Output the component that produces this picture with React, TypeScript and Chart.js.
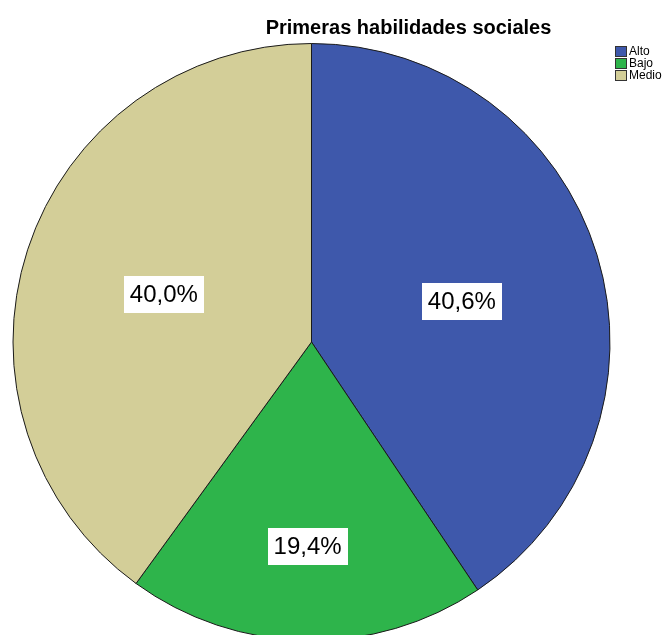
import React, { useEffect, useRef } from "react";
import { Chart, registerables } from "chart.js";

Chart.register(...registerables);

const categories = ["Alto", "Bajo", "Medio"];
const percentages = [40.6, 19.4, 40.0];
const colors = ["#3E58AB", "#2EB44B", "#D3CE98"];
const chartTitle = "Primeras habilidades sociales";

const FONT = "'Liberation Sans', Arial, Helvetica, sans-serif";
const labelRadiusFrac = [0.522, 0.685, 0.52];
const labelAngleTweak = [0.03, 0, 0];

const decorPlugin = {
  id: "spssDecor",
  afterDatasetsDraw(chart: any) {
    const ctx = chart.ctx;
    const meta = chart.getDatasetMeta(0);
    ctx.save();
    // slice labels
    meta.data.forEach((arc: any, i: number) => {
      const p = arc.getProps(["x", "y", "startAngle", "endAngle", "outerRadius"], true);
      const mid = (p.startAngle + p.endAngle) / 2 + labelAngleTweak[i];
      const r = p.outerRadius * labelRadiusFrac[i];
      const cx = p.x + Math.cos(mid) * r;
      const cy = p.y + Math.sin(mid) * r;
      const txt = percentages[i].toFixed(1).replace(".", ",") + "%";
      ctx.font = `24px ${FONT}`;
      const w = ctx.measureText(txt).width + 12;
      const h = 37;
      ctx.fillStyle = "#ffffff";
      ctx.fillRect(Math.round(cx - w / 2), Math.round(cy - h / 2), Math.round(w), h);
      ctx.fillStyle = "#000000";
      ctx.textAlign = "center";
      ctx.textBaseline = "middle";
      ctx.fillText(txt, cx, cy + 1);
    });
    // title
    ctx.font = `bold 20px ${FONT}`;
    ctx.fillStyle = "#000000";
    ctx.textAlign = "center";
    ctx.textBaseline = "alphabetic";
    ctx.fillText(chartTitle, 408.5, 34);
    // legend
    ctx.font = `12px ${FONT}`;
    ctx.textAlign = "left";
    ctx.textBaseline = "middle";
    categories.forEach((c, i) => {
      const y = 46 + i * 12;
      ctx.fillStyle = colors[i];
      ctx.fillRect(615.5, y + 0.5, 11, 10);
      ctx.strokeStyle = "#333333";
      ctx.lineWidth = 1;
      ctx.strokeRect(615.5, y + 0.5, 11, 10);
      ctx.fillStyle = "#000000";
      ctx.fillText(c, 629, y + 6);
    });
    ctx.restore();
  },
};

export default function App() {
  const ref = useRef<HTMLCanvasElement | null>(null);
  useEffect(() => {
    if (!ref.current) return;
    const chart = new Chart(ref.current, {
      type: "pie",
      data: {
        labels: categories,
        datasets: [
          {
            data: percentages,
            backgroundColor: colors,
            borderColor: "#1a1a1a",
            borderWidth: 1,
            hoverOffset: 0,
            offset: 0,
          },
        ],
      },
      options: {
        responsive: false,
        animation: false,
        events: [],
        layout: { padding: { left: 12.5, top: 43, right: 59.5, bottom: 9 } },
        plugins: {
          legend: { display: false },
          title: { display: false },
          tooltip: { enabled: false },
        },
      },
      plugins: [decorPlugin],
    });
    return () => chart.destroy();
  }, []);
  return (
    <div
      style={{
        position: "fixed",
        left: 0,
        top: 0,
        width: 670,
        height: 635,
        overflow: "hidden",
        background: "#ffffff",
      }}
    >
      <canvas ref={ref} width={670} height={650} style={{ display: "block", width: 670, height: 650 }} />
    </div>
  );
}
